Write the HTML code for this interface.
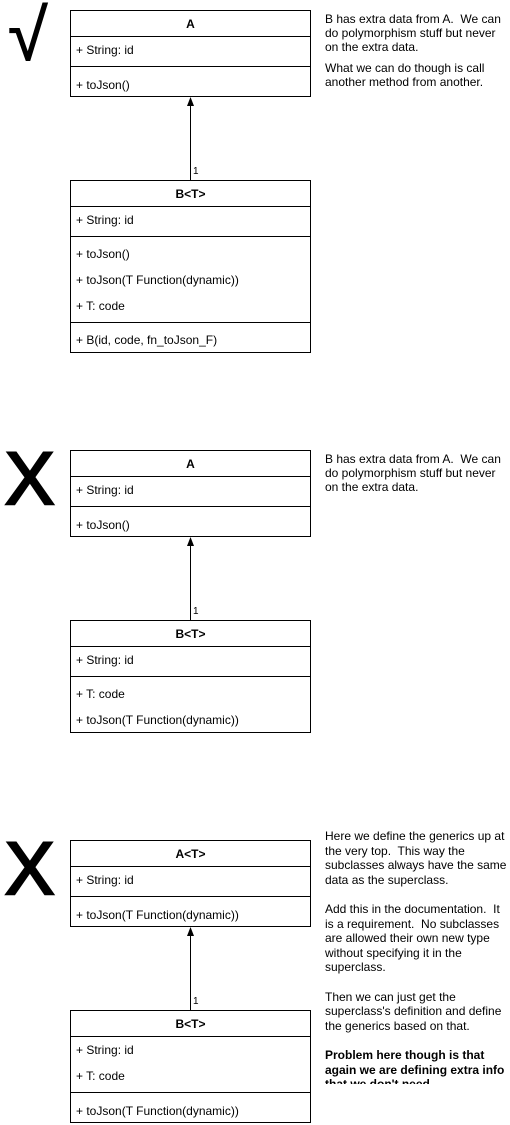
<!DOCTYPE html>
<html><head><meta charset="utf-8"><style>
*{margin:0;padding:0;box-sizing:border-box}
body{width:510px;height:1125px;background:#fff;position:relative;overflow:hidden;font-family:"Liberation Sans",Arial,sans-serif;font-size:12px;color:#000}
.b{position:absolute;left:70px;width:241px;border:1px solid #000;background:#fff}
.h{position:absolute;left:0;right:0;text-align:center;font-weight:bold;font-size:12px}
.t{position:absolute;left:5px;white-space:nowrap;font-size:12px}
.l{position:absolute;left:0;right:0;height:1px;background:#000}
.n{position:absolute;left:325px;width:185px;font-size:12px;line-height:14px}
.s{position:absolute;font-size:74px;line-height:1}
.x{-webkit-text-stroke:2.5px #000}
.one{position:absolute;left:193px;font-size:10px}
</style></head><body>

<div class="s" style="left:8px;top:0px;font-size:72px;-webkit-text-stroke:1px #000">√</div>
<div class="s x" style="left:5px;top:442px">X</div>
<div class="s x" style="left:5px;top:832px">X</div>

<svg width="510" height="1125" style="position:absolute;left:0;top:0">
<g stroke="#000" stroke-width="1">
<line x1="190.5" y1="104" x2="190.5" y2="180"/>
<line x1="190.5" y1="544" x2="190.5" y2="620"/>
<line x1="190.5" y1="934" x2="190.5" y2="1010"/>
</g>
<polygon points="190.5,97 187,106 194,106" fill="#000"/>
<polygon points="190.5,537 187,546 194,546" fill="#000"/>
<polygon points="190.5,927 187,936 194,936" fill="#000"/>
</svg>
<div class="one" style="top:166px">1</div>
<div class="one" style="top:606px">1</div>
<div class="one" style="top:996px">1</div>

<!-- group 1 -->
<div class="b" style="top:10px;height:87px">
<div class="h" style="top:6px">A</div>
<div class="l" style="top:25px"></div>
<div class="t" style="top:32px">+ String: id</div>
<div class="l" style="top:55px"></div>
<div class="t" style="top:67px">+ toJson()</div>
</div>
<div class="b" style="top:180px;height:173px">
<div class="h" style="top:6px">B&lt;T&gt;</div>
<div class="l" style="top:25px"></div>
<div class="t" style="top:32px">+ String: id</div>
<div class="l" style="top:55px"></div>
<div class="t" style="top:66px">+ toJson()</div>
<div class="t" style="top:92px">+ toJson(T Function(dynamic))</div>
<div class="t" style="top:118px">+ T: code</div>
<div class="l" style="top:141px"></div>
<div class="t" style="top:152px">+ B(id, code, fn_toJson_F)</div>
</div>
<div class="n" style="top:12px">B has extra data from A.&nbsp; We can do polymorphism stuff but never on the extra data.<div style="height:7px"></div>What we can do though is call another method from another.</div>

<!-- group 2 -->
<div class="b" style="top:450px;height:87px">
<div class="h" style="top:6px">A</div>
<div class="l" style="top:25px"></div>
<div class="t" style="top:32px">+ String: id</div>
<div class="l" style="top:55px"></div>
<div class="t" style="top:67px">+ toJson()</div>
</div>
<div class="b" style="top:620px;height:113px">
<div class="h" style="top:6px">B&lt;T&gt;</div>
<div class="l" style="top:25px"></div>
<div class="t" style="top:32px">+ String: id</div>
<div class="l" style="top:55px"></div>
<div class="t" style="top:66px">+ T: code</div>
<div class="t" style="top:92px">+ toJson(T Function(dynamic))</div>
</div>
<div class="n" style="top:452px">B has extra data from A.&nbsp; We can do polymorphism stuff but never on the extra data.</div>

<!-- group 3 -->
<div class="b" style="top:840px;height:87px">
<div class="h" style="top:6px">A&lt;T&gt;</div>
<div class="l" style="top:25px"></div>
<div class="t" style="top:32px">+ String: id</div>
<div class="l" style="top:55px"></div>
<div class="t" style="top:67px">+ toJson(T Function(dynamic))</div>
</div>
<div class="b" style="top:1010px;height:113px">
<div class="h" style="top:6px">B&lt;T&gt;</div>
<div class="l" style="top:25px"></div>
<div class="t" style="top:32px">+ String: id</div>
<div class="t" style="top:58px">+ T: code</div>
<div class="l" style="top:81px"></div>
<div class="t" style="top:93px">+ toJson(T Function(dynamic))</div>
</div>
<div class="n" style="top:829px;height:255px;overflow:hidden;line-height:14.6px">Here we define the generics up at the very top.&nbsp; This way the subclasses always have the same data as the superclass.<br><br>Add this in the documentation.&nbsp; It is a requirement.&nbsp; No subclasses are allowed their own new type without specifying it in the superclass.<br><br>Then we can just get the superclass's definition and define the generics based on that.<br><br><b>Problem here though is that again we are defining extra info that we don't need.</b></div>

</body></html>
